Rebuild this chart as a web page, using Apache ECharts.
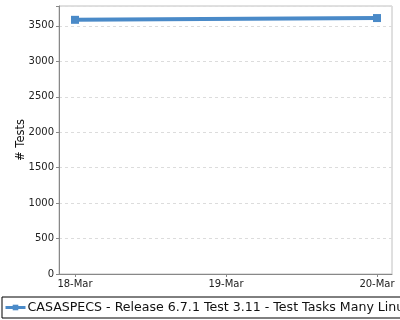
<!DOCTYPE html>
<html><head><meta charset="utf-8">
<script src="https://cdn.jsdelivr.net/npm/echarts@6/dist/echarts.min.js"></script>
<style>html,body{margin:0;padding:0;background:#fff}#c{width:400px;height:320px}</style>
</head><body><div id="c"></div>
<script>
const categories = ['18-Mar', '19-Mar', '20-Mar'];
const seriesName = 'CASASPECS - Release 6.7.1 Test 3.11 - Test Tasks Many Linux';
const values = [3585, null, 3610];
const yMax = 3780;
const yInterval = 500;
const yAxisTitle = '# Tests';

const font = 'DejaVu Sans';
const chart = echarts.init(document.getElementById('c'), null, {renderer: 'canvas'});
chart.setOption({
  animation: false,
  backgroundColor: '#fff',
  textStyle: {fontFamily: font},
  grid: [
    {left: 59, right: 8, top: 6, bottom: 46, outerBoundsMode: 'none', containLabel: false,
     show: true, borderColor: '#c0c0c0', borderWidth: 1, backgroundColor: '#fff'},
    {left: 75, right: 23, top: 6, bottom: 46, outerBoundsMode: 'none', containLabel: false}
  ],
  xAxis: [
    {gridIndex: 0, type: 'value', min: 0, max: 1, show: true,
     axisLine: {show: true, onZero: false, lineStyle: {color: '#888', width: 1}},
     axisTick: {show: false}, axisLabel: {show: false}, splitLine: {show: false}},
    {gridIndex: 1, type: 'category', data: categories, boundaryGap: false,
     axisLine: {show: false},
     axisTick: {show: true, length: 3, inside: false, lineStyle: {color: '#888'}},
     axisLabel: {color: '#222', fontSize: 10, fontFamily: font, margin: 5}}
  ],
  yAxis: [
    {gridIndex: 0, type: 'value', min: 0, max: yMax, interval: yInterval,
     name: yAxisTitle, nameLocation: 'middle', nameGap: 32, nameRotate: 90, nameMoveOverlap: false,
     nameTextStyle: {color: '#111', fontSize: 11.5, fontFamily: font},
     axisLine: {show: true, lineStyle: {color: '#888'}},
     axisTick: {show: true, length: 3, lineStyle: {color: '#888'}},
     axisLabel: {color: '#222', fontSize: 10, fontFamily: font, margin: 5,
       formatter: v => (v % yInterval === 0 ? String(v) : '')},
     splitLine: {show: true, lineStyle: {color: '#dcdcdc', type: [3, 3], width: 1}}},
    {gridIndex: 1, type: 'value', min: 0, max: yMax, show: false}
  ],
  legend: {
    left: 2, bottom: 2, itemGap: 0, padding: [4, 4, 4, 2],
    borderColor: '#000', borderWidth: 1, borderRadius: 0,
    itemWidth: 20, itemHeight: 7,
    lineStyle: {width: 3},
    textStyle: {fontSize: 12.6, color: '#111', fontFamily: font, padding: [0, 0, 0, -3]},
    data: [seriesName]
  },
  series: [{
    name: seriesName, type: 'line', xAxisIndex: 1, yAxisIndex: 1,
    data: values, connectNulls: true,
    symbol: 'rect', symbolSize: 8, showAllSymbol: true,
    lineStyle: {color: '#4a8ac8', width: 4},
    itemStyle: {color: '#4a8ac8'}
  }]
});
</script></body></html>
